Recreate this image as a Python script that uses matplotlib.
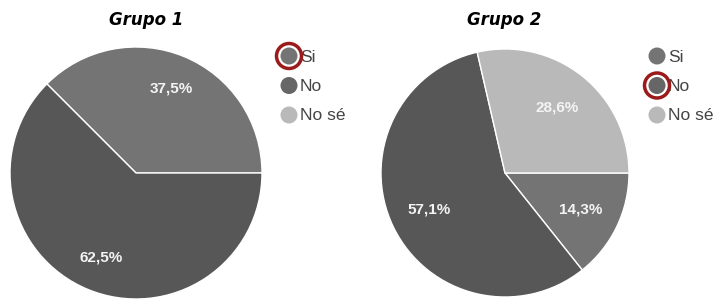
import numpy as np
import matplotlib.pyplot as plt
import matplotlib.patches as mpatches

# Datos
categorias = ['Si', 'No', 'No sé']
colores = ['#747474', '#575757', '#b9b9b9']

grupo1 = [37.5, 62.5]          # Si, No
grupo2 = [14.3, 57.1, 28.6]    # Si, No, No sé
etiquetas1 = ['37,5%', '62,5%']
etiquetas2 = ['14,3%', '57,1%', '28,6%']
titulos = ['Grupo 1', 'Grupo 2']
marcado = ['Si', 'No']         # opción rodeada en rojo

W, H = 725, 299
fig = plt.figure(figsize=(W / 100, H / 100), dpi=100)


def pie_ax(cx, cy, r):
    # cx, cy, r en píxeles (origen arriba a la izquierda)
    return fig.add_axes([(cx - r) / W, (H - cy - r) / H, 2 * r / W, 2 * r / H])


def dibujar(ax, valores, etiquetas, ccw, dist):
    wedges, _ = ax.pie(valores, colors=colores[:len(valores)], startangle=0,
                       counterclock=ccw, radius=1,
                       wedgeprops=dict(edgecolor='white', linewidth=1.0))
    ax.set_xlim(-1, 1)
    ax.set_ylim(-1, 1)
    ax.axis('off')
    # etiquetas de porcentaje
    for w, lab in zip(wedges, etiquetas):
        ang = np.deg2rad((w.theta1 + w.theta2) / 2)
        ax.text(dist * np.cos(ang), dist * np.sin(ang), lab, color='#f4f4f4',
                ha='center', va='center', fontsize=11, fontweight='bold',
                family='Liberation Sans')


ax1 = pie_ax(136, 173, 126)
dibujar(ax1, grupo1, etiquetas1, True, 0.73)
ax2 = pie_ax(505, 173, 124)
dibujar(ax2, grupo2, etiquetas2, False, 0.68)

# Capa superior en píxeles para títulos y leyendas
ov = fig.add_axes([0, 0, 1, 1])
ov.set_xlim(0, W)
ov.set_ylim(H, 0)
ov.axis('off')

for tx, titulo in zip([146, 504], titulos):
    ov.text(tx, 20, titulo, ha='center', va='center', fontsize=12,
            fontweight='bold', fontstyle='italic', family='DejaVu Sans')

for lx, marca in zip([289, 657], marcado):
    for i, (cat, col) in enumerate(zip(categorias, colores)):
        y = 56 + 29.5 * i
        ov.scatter(lx, y, s=150, color=col if i != 1 else '#666666',
                   edgecolors='none', zorder=3)
        ov.text(lx + 11, y + 1, cat, ha='left', va='center', fontsize=12.5,
                color='#444444', family='Liberation Sans')
        if cat == marca:
            ov.add_patch(mpatches.Circle((lx, y), 12.5, fill=False,
                                         edgecolor='#9b1a1a', linewidth=2.5,
                                         zorder=4))

fig.savefig('out.png', dpi=100, facecolor='white')
